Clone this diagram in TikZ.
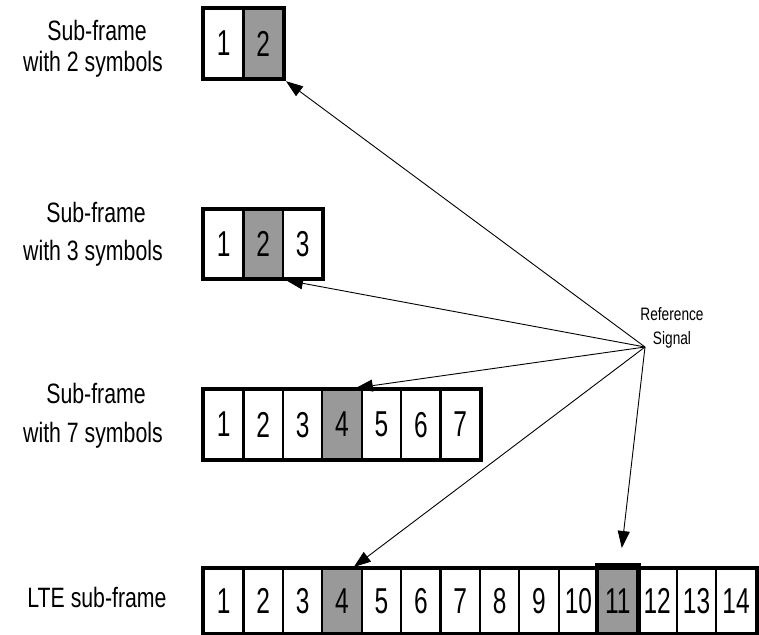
\documentclass[tikz,border=0pt]{standalone}
\usepackage{fontspec}
\setmainfont{Liberation Sans}
\newfontfamily\labelfont[FakeStretch=0.76]{Liberation Sans}
\newfontfamily\digitfont[FakeStretch=0.68]{Liberation Sans}
\usetikzlibrary{arrows.meta,calc}
\definecolor{rsgray}{RGB}{153,153,153}

\begin{document}
\begin{tikzpicture}[x=1pt,y=-1pt,
  symcell/.style={draw, line width=2.2pt, fill=white, minimum width=39.4pt,
    minimum height=69pt, inner sep=0pt, anchor=north west,
    font=\digitfont\fontsize{36}{36}\selectfont},
  shortcell/.style={symcell, minimum height=64pt},
  boxframe/.style={draw, line width=4pt},
  sublabel/.style={font=\labelfont\fontsize{28}{28}\selectfont, anchor=base, inner sep=0pt},
  rslabel/.style={font=\labelfont\fontsize{18}{18}\selectfont, anchor=base, inner sep=0pt},
  ptr/.style={line width=0.9pt, -{Triangle[length=17pt,width=12pt]}}
]
\useasboundingbox (0,0) rectangle (759,634);

% Row labels
\node[sublabel] (l1a) at (97,41) {Sub-frame};
\node[sublabel] (l1b) at (93,71) {with 2 symbols};
\node[sublabel] (l2a) at (96,222) {Sub-frame};
\node[sublabel] (l2b) at (93,260) {with 3 symbols};
\node[sublabel] (l3a) at (96,403) {Sub-frame};
\node[sublabel] (l3b) at (93,442) {with 7 symbols};
\node[sublabel] (l4)  at (97,607) {LTE sub-frame};

% Sub-frame with 2 symbols
\foreach \i/\f in {1/white,2/rsgray}
  \node[symcell, fill=\f] (a\i) at ({203+(\i-1)*39.4},8) {\i};
\draw[boxframe] (a1.north west) rectangle (a2.south east);

% Sub-frame with 3 symbols
\foreach \i/\f in {1/white,2/rsgray,3/white}
  \node[symcell, fill=\f, minimum height=68pt] (b\i) at ({203+(\i-1)*39.4},209) {\i};
\draw[boxframe] (b1.north west) rectangle (b3.south east);

% Sub-frame with 7 symbols
\foreach \i/\f in {1/white,2/white,3/white,4/rsgray,5/white,6/white,7/white}
  \node[symcell, fill=\f] (c\i) at ({203+(\i-1)*39.4},389) {\i};
\draw[boxframe] (c1.north west) rectangle (c7.south east);

% LTE sub-frame, 14 symbols
\foreach \i/\f in {1/white,2/white,3/white,4/rsgray,5/white,6/white,7/white,
                   8/white,9/white,10/white,11/rsgray,12/white,13/white,14/white}
  \node[shortcell, fill=\f] (d\i) at ({203+(\i-1)*39.4},568) {\i};
\draw[boxframe] (d1.north west) rectangle (d14.south east);
\draw[line width=4pt] (d11.south west) -- ($(d11.north west)+(0,-3)$)
  -- ($(d11.north east)+(0,-3)$) -- (d11.south east);

% Reference signal pointers
\node[rslabel] (rs1) at (672,320) {Reference};
\node[rslabel] (rs2) at (672,344) {Signal};
\coordinate (rsig) at (645,347);
\draw[ptr] (rsig) -- ($(a2.south east)+(2,2)$);
\draw[ptr] (rsig) -- ($(b2.south east)+(2,1)$);
\draw[ptr] (rsig) -- ($(c4.north east)+(-7,-1)$);
\draw[ptr] (rsig) -- ($(d4.north east)+(-9,-1)$);
\draw[ptr] (rsig) -- ($(d11.north)+(4,-20)$);
\end{tikzpicture}
\end{document}
